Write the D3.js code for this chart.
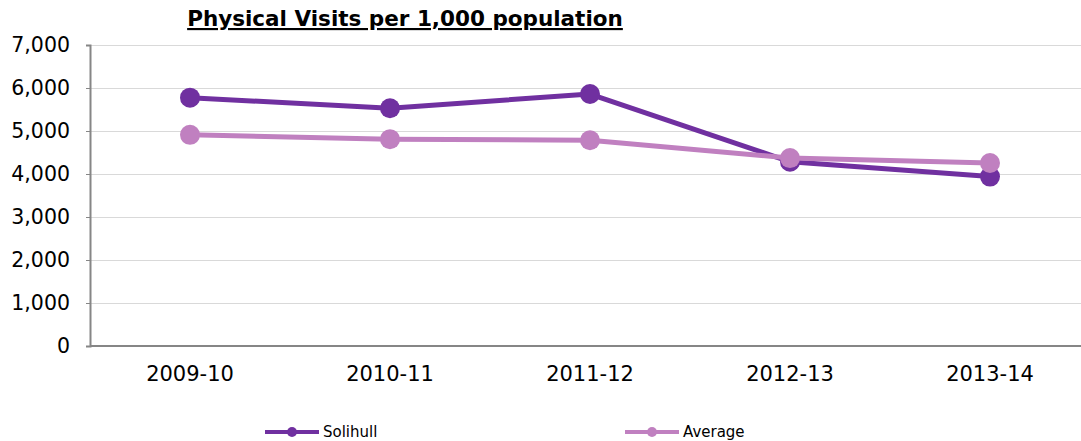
<!DOCTYPE html>
<html>
<head>
<meta charset="utf-8">
<script src="https://cdn.jsdelivr.net/npm/d3@7"></script>
<style>
  body { margin: 0; background: #fff; }
  text { font-family: "DejaVu Sans", Verdana, sans-serif; }
</style>
</head>
<body>
<div id="chart"></div>
<script>
// Data
const years = ["2009-10", "2010-11", "2011-12", "2012-13", "2013-14"];
const solihull = [5775, 5530, 5860, 4285, 3940];
const average = [4910, 4810, 4785, 4370, 4255];
const yTicks = [0, 1000, 2000, 3000, 4000, 5000, 6000, 7000];

const width = 1081;
const height = 441;
const margin = {top: 45, right: 0, bottom: 95, left: 90};

const svg = d3.select("#chart")
  .append("svg")
  .attr("width", width)
  .attr("height", height);

const x = d3.scaleBand()
  .domain(years)
  .range([margin.left, margin.left + 1000]);

const y = d3.scaleLinear()
  .domain([0, 7000])
  .range([346, 45]);

// gridlines
svg.append("g")
  .selectAll("line")
  .data(yTicks.filter(d => d > 0))
  .enter()
  .append("line")
  .attr("x1", margin.left)
  .attr("x2", width)
  .attr("y1", d => y(d) + 0.5)
  .attr("y2", d => y(d) + 0.5)
  .attr("stroke", "#d9d9d9")
  .attr("stroke-width", 1);

// y axis
const yAxis = svg.append("g")
  .attr("transform", `translate(${margin.left},0)`)
  .call(d3.axisLeft(y).tickValues(yTicks).tickFormat(d3.format(",")).tickSize(4).tickPadding(16));
yAxis.select(".domain").attr("stroke", "#868686").attr("stroke-width", 2);
yAxis.selectAll(".tick line").attr("stroke", "#868686");
yAxis.selectAll("text").attr("font-size", 20.5).attr("fill", "#000")
  .style("font-family", "'DejaVu Sans', Verdana, sans-serif");

// x axis
const xAxis = svg.append("g")
  .attr("transform", `translate(0,${y(0)})`)
  .call(d3.axisBottom(x).tickSize(0).tickPadding(20));
xAxis.select(".domain").attr("stroke", "#868686").attr("stroke-width", 2)
  .attr("d", `M${margin.left},0H${width}`);
xAxis.selectAll("text").attr("font-size", 21).attr("fill", "#000")
  .style("font-family", "'DejaVu Sans', Verdana, sans-serif");

// series
const series = [
  {name: "Solihull", values: solihull, color: "#7030A0"},
  {name: "Average", values: average, color: "#C080C0"}
];

const line = d3.line()
  .x((d, i) => x(years[i]) + x.bandwidth() / 2)
  .y(d => y(d));

series.forEach(s => {
  const g = svg.append("g");
  g.append("path")
    .datum(s.values)
    .attr("d", line)
    .attr("fill", "none")
    .attr("stroke", s.color)
    .attr("stroke-width", 5)
    .attr("stroke-linejoin", "round");
  g.selectAll("circle")
    .data(s.values)
    .enter()
    .append("circle")
    .attr("cx", (d, i) => x(years[i]) + x.bandwidth() / 2)
    .attr("cy", d => y(d))
    .attr("r", 10)
    .attr("fill", s.color);
});

// title
svg.append("text")
  .attr("x", 405)
  .attr("y", 26)
  .attr("text-anchor", "middle")
  .attr("font-size", 21.5)
  .attr("font-weight", "bold")
  .attr("text-decoration", "underline")
  .text("Physical Visits per 1,000 population");

// legend
const legendX = [265, 625];
series.forEach((s, i) => {
  const g = svg.append("g").attr("transform", `translate(${legendX[i]},432)`);
  g.append("line")
    .attr("x1", 0).attr("x2", 54)
    .attr("stroke", s.color).attr("stroke-width", 4);
  g.append("circle").attr("cx", 27).attr("r", 5).attr("fill", s.color);
  g.append("text")
    .attr("x", 58)
    .attr("dy", "0.35em")
    .attr("font-size", 15)
    .text(s.name);
});
</script>
</body>
</html>
